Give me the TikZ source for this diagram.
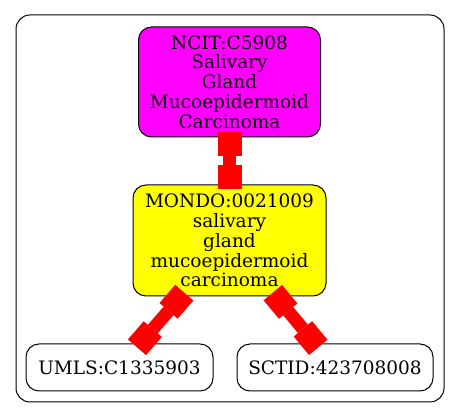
\documentclass[tikz,border=0pt]{standalone}
\usepackage{fontspec}
\setmainfont{DejaVu Serif}
\usetikzlibrary{arrows.meta}
\definecolor{ncitfill}{RGB}{255,0,255}
\definecolor{mondofill}{RGB}{255,255,0}
\definecolor{linkred}{RGB}{255,0,0}
\begin{document}
\begin{tikzpicture}[x=1pt,y=-1pt,
    term/.style={draw=black,line width=1pt,rounded corners=13pt,align=center,
        inner sep=0pt,font=\fontsize{18.5}{19.8}\selectfont},
    link/.style={linkred,line width=13pt,
        {Square[length=24pt,width=24pt,line width=0pt]}-{Square[length=24pt,width=24pt,line width=0pt]},
        shorten <=-5pt,shorten >=-5pt}]
    \useasboundingbox (0,0) rectangle (461,419);
    % marco exterior
    \draw[line width=1pt,rounded corners=14pt] (16,15) rectangle (444,402);

    % terminos
    \node[term,fill=ncitfill,minimum width=182pt,minimum height=110pt] (ncit) at (229.5,82)
        {NCIT:C5908\\Salivary\\Gland\\Mucoepidermoid\\Carcinoma};
    \node[term,fill=mondofill,minimum width=193pt,minimum height=111pt] (mondo) at (229.5,240.5)
        {MONDO:0021009\\salivary\\gland\\mucoepidermoid\\carcinoma};
    \node[term,fill=white,minimum width=187pt,minimum height=47pt] (umls) at (119.5,367.5)
        {UMLS:C1335903};
    \node[term,fill=white,minimum width=196pt,minimum height=47pt] (sctid) at (335,367.5)
        {SCTID:423708008};

    % enlaces
    \draw[link] (ncit) -- (mondo);
    \draw[link] (mondo) -- (umls);
    \draw[link] (mondo) -- (sctid);
\end{tikzpicture}
\end{document}
